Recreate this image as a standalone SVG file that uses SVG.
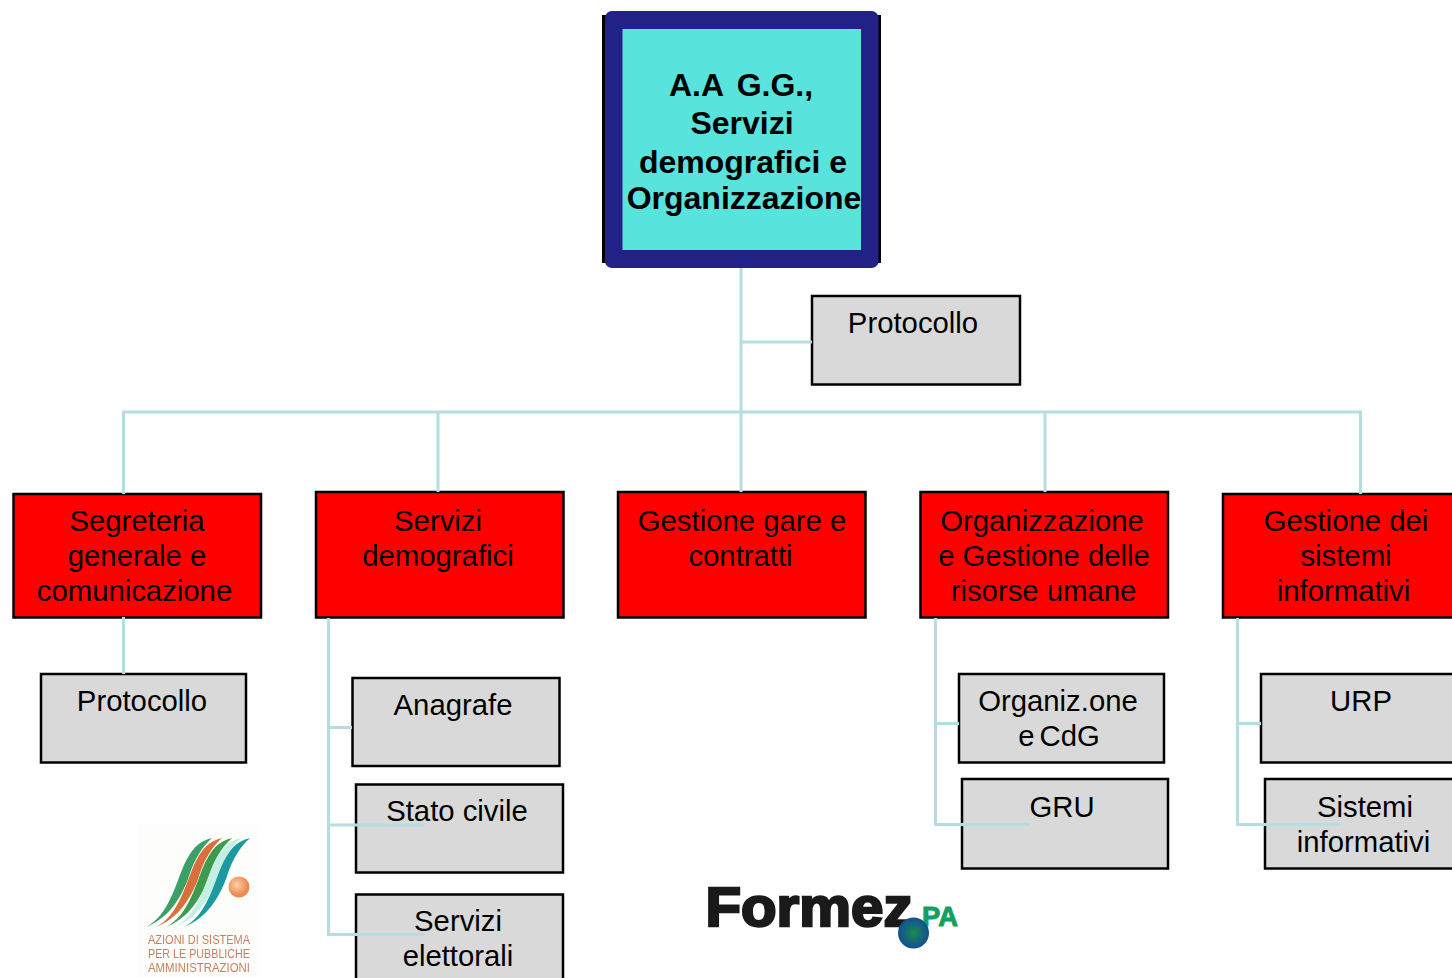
<svg xmlns="http://www.w3.org/2000/svg" width="1452" height="978" viewBox="0 0 1452 978">
<style>
text{font-family:"Liberation Sans",Arial,sans-serif;font-size:29.3px;fill:#000;text-anchor:middle}
.red{fill:#ff0000;stroke:#000;stroke-width:2.5}
.gray{fill:#d9d9d9;stroke:#000;stroke-width:2.5}
.c{fill:none;stroke:#b5dde2;stroke-width:3}
.t{font-weight:bold;font-size:32px}
.s{fill:#c9805f;font-size:13px}
</style>
<defs>
<radialGradient id="orb"><stop offset="0" stop-color="#1a8a50"/><stop offset="1" stop-color="#114f94"/></radialGradient>
<radialGradient id="sun" cx=".4" cy=".4"><stop offset="0" stop-color="#fbd0a8"/><stop offset="1" stop-color="#ee8a50"/></radialGradient>
<filter id="soft" x="-5%" y="-5%" width="110%" height="110%"><feGaussianBlur stdDeviation="0.6"/></filter>
<path id="rib" d="M146 927C168 916 175 886 184 865C191 850 198 841 212 838C202 847 195 858 189 876C182 897 168 919 146 927Z"/>
</defs>
<g id="root">
<rect x="602" y="15" width="279" height="248" fill="#000"/>
<rect x="605" y="11" width="273.500" height="257" rx="7" fill="#212187"/>
<rect x="622.500" y="29" width="238.500" height="221" fill="#58e3dc"/>
<text class="t" x="741" y="96" xml:space="preserve" word-spacing="-2">A.A  G.G.,</text>
<text class="t" x="742" y="134">Servizi</text>
<text class="t" x="743" y="173">demografici e</text>
<text class="t" x="744" y="209">Organizzazione</text>
</g>
<g id="protocollo-top"><rect class="gray" x="812" y="296" width="208" height="88.500"/><text x="913" y="333">Protocollo</text></g>
<g id="segreteria"><rect class="red" x="13.500" y="494" width="247.500" height="123.500"/><text x="137" y="531">Segreteria</text><text x="137" y="566">generale e</text><text x="134.500" y="601">comunicazione</text></g>
<g id="demografici"><rect class="red" x="316" y="492" width="247.500" height="125.500"/><text x="438" y="531">Servizi</text><text x="438" y="566">demografici</text></g>
<g id="gare"><rect class="red" x="618" y="492" width="247.500" height="125.500"/><text x="742" y="531">Gestione gare e</text><text x="740.500" y="566">contratti</text></g>
<g id="organizzazione"><rect class="red" x="920.500" y="492" width="247.500" height="125.500"/><text x="1042" y="531">Organizzazione</text><text x="1044" y="566">e Gestione delle</text><text x="1043.500" y="601">risorse umane</text></g>
<g id="sistemi"><rect class="red" x="1223" y="494" width="247.500" height="123.500"/><text x="1346" y="531">Gestione dei</text><text x="1346" y="566">sistemi</text><text x="1343.500" y="601">informativi</text></g>
<g id="protocollo"><rect class="gray" x="41" y="674" width="205" height="88.500"/><text x="142" y="711">Protocollo</text></g>
<g id="anagrafe"><rect class="gray" x="352.500" y="678" width="207" height="88"/><text x="453" y="715">Anagrafe</text></g>
<g id="stato"><rect class="gray" x="356" y="784.500" width="207" height="88"/><text x="457" y="821">Stato civile</text></g>
<g id="elettorali"><rect class="gray" x="356" y="894.500" width="207" height="100"/><text x="458" y="931">Servizi</text><text x="458" y="966">elettorali</text></g>
<g id="organiz"><rect class="gray" x="959" y="674" width="205" height="88.500"/><text x="1058" y="711">Organiz.one</text><text x="1059" y="746" word-spacing="-3">e CdG</text></g>
<g id="gru"><rect class="gray" x="962" y="779" width="206" height="89.500"/><text x="1062" y="817">GRU</text></g>
<g id="urp"><rect class="gray" x="1261" y="674" width="205" height="88.500"/><text x="1361" y="711">URP</text></g>
<g id="si"><rect class="gray" x="1265" y="779" width="205" height="89.500"/><text x="1365" y="817">Sistemi</text><text x="1363.500" y="852">informativi</text></g>
<g id="connectors">
<path class="c" d="M741 268V492M741 342H812M123.500 494V412H1360.500V494M438 412V492M1045 412V492"/>
<path class="c" d="M123.500 617V674"/>
<path class="c" d="M328.500 618V934.500H424M328.500 727.500H352M328.500 825H424"/>
<path class="c" d="M935.500 618V824.500H1030M935.500 723.500H959"/>
<path class="c" d="M1237.500 618V824.500H1340M1237.500 723.500H1261"/>
</g>
<g id="logo-azioni" filter="url(#soft)">
<rect x="138" y="824" width="120" height="154" fill="#fdfdfc"/>
<use href="#rib" fill="#3aa066"/>
<use href="#rib" x="10" fill="#d9703a"/>
<use href="#rib" x="20" fill="#3f9a4e"/>
<use href="#rib" x="29" fill="#c4f0e4"/>
<use href="#rib" x="38" fill="#1a9aa0"/>
<circle cx="239" cy="887" r="10.500" fill="url(#sun)"/>
<text class="s" x="199" y="943.500" textLength="102" lengthAdjust="spacingAndGlyphs">AZIONI DI SISTEMA</text>
<text class="s" x="199" y="957.500" textLength="102" lengthAdjust="spacingAndGlyphs">PER LE PUBBLICHE</text>
<text class="s" x="199" y="971.500" textLength="102" lengthAdjust="spacingAndGlyphs">AMMINISTRAZIONI</text>
</g>
<g id="logo-formez">
<text x="809" y="926" style="font-size:56px;font-weight:bold;fill:#1a1a1a;stroke:#1a1a1a;stroke-width:2.500" textLength="207" lengthAdjust="spacingAndGlyphs">Formez</text>
<text x="940" y="926" style="font-size:27px;font-weight:bold;fill:#12a060;stroke:#12a060;stroke-width:1" textLength="36" lengthAdjust="spacingAndGlyphs">PA</text>
<circle cx="913.500" cy="933" r="15.500" fill="url(#orb)"/>
</g>
</svg>
